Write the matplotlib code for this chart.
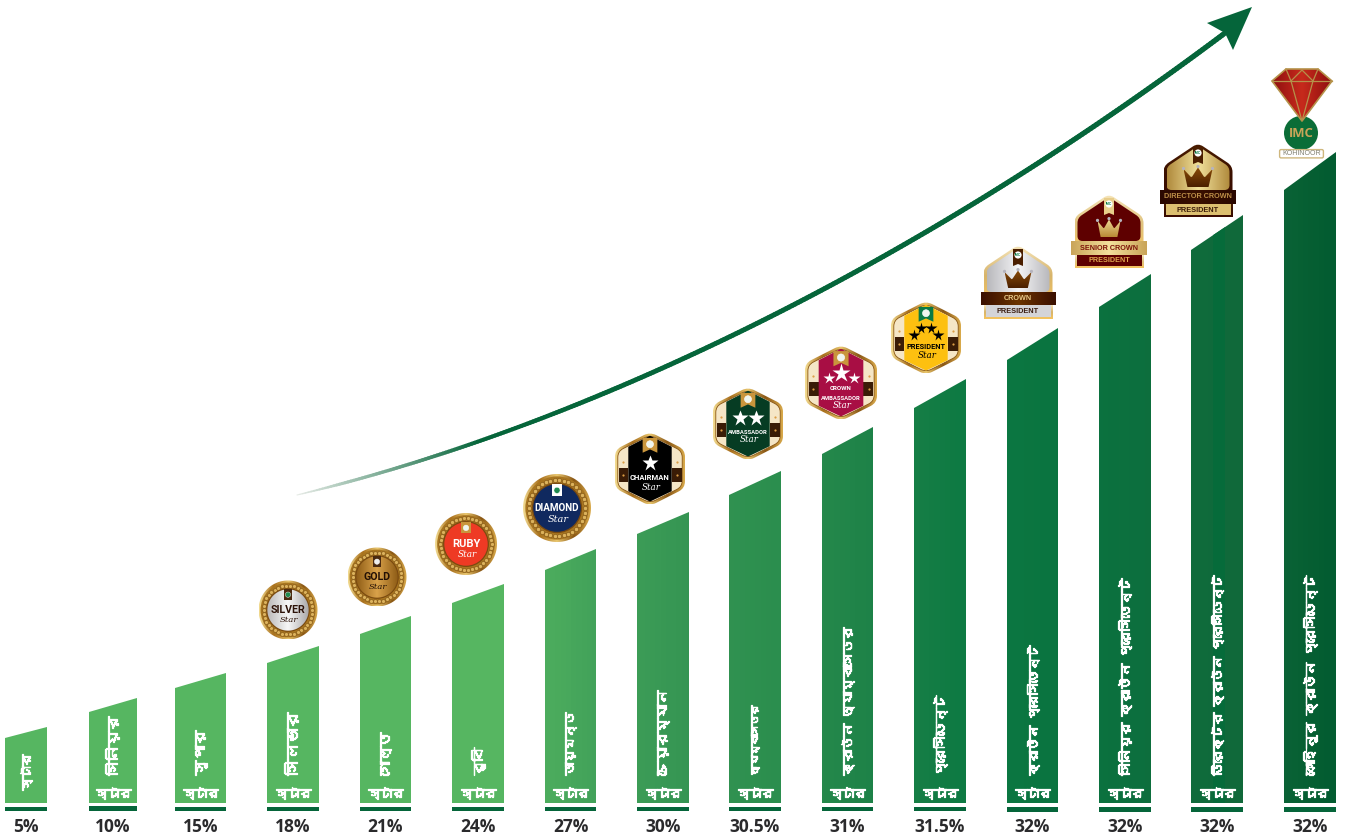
import numpy as np
import matplotlib
matplotlib.use("Agg")
import matplotlib.pyplot as plt
import matplotlib.patheffects as pe
from matplotlib import font_manager as fm
from matplotlib.collections import LineCollection
from matplotlib.colors import LinearSegmentedColormap, to_rgb
from matplotlib.patches import Circle, FancyBboxPatch, PathPatch, Polygon, Rectangle
from matplotlib.path import Path

# ---------- data ----------
star_word = "স্টার"
ranks = ["স্টার", "সিনিয়র", "সুপার", "সিলভার", "গোল্ড", "রুবি", "ডায়মন্ড", "চেয়ারম্যান",
         "অ্যাম্বাসেডর", "ক্রাউন অ্যাম্বাসেডর", "প্রেসিডেন্ট", "ক্রাউন প্রেসিডেন্ট",
         "সিনিয়র ক্রাউন প্রেসিডেন্ট", "ডিরেক্টর ক্রাউন প্রেসিডেন্ট", "কোহিনূর ক্রাউন প্রেসিডেন্ট"]
percent_labels = ["5%", "10%", "15%", "18%", "21%", "24%", "27%", "30%", "30.5%", "31%",
                  "31.5%", "32%", "32%", "32%", "32%"]
height_left = [65, 91, 115, 140, 169, 200, 233, 269, 308, 349, 395, 443, 496, 553, 613]
height_right = [76, 105, 130, 157, 187, 219, 254, 291, 332, 376, 424, 475, 529, 588, 651]

# ---------- layout ----------
W, H = 1353, 836
BASE = 803
bar_left = [5, 89, 175, 267, 360, 452, 545, 637, 729, 822, 914, 1007, 1099, 1191, 1284]
bar_right = [47, 137, 226, 319, 411, 504, 596, 689, 781, 873, 966, 1058, 1151, 1243, 1336]
label_len = [36, 59, 45, 63, 43, 28, 63, 85, 70, 148, 80, 130, 197, 200, 200]
label_bottom = 775
DARK = "#05653a"

bengali = None
for f in fm.fontManager.ttflist:
    try:
        if 0x09B8 in fm.get_font(f.fname).get_charmap():
            bengali = f.name
            break
    except Exception:
        pass
bn_family = [bengali, "Noto Sans", "DejaVu Sans"] if bengali else ["Noto Sans", "DejaVu Sans"]
NARROW = ["Roboto", "DejaVu Sans"]
SANS = ["Liberation Sans", "DejaVu Sans"]

fig = plt.figure(figsize=(W / 100, H / 100), dpi=100, facecolor="white")
ax = fig.add_axes([0, 0, 1, 1])
ax.set_axis_off()
ax.set_xlim(0, W)
ax.set_ylim(H, 0)
renderer = fig.canvas.get_renderer()


def fit(x, y, s, length, **kw):
    """Real text whose longest side is scaled to length pixels."""
    t = ax.text(x, y, s, fontsize=10, **kw)
    bb = t.get_window_extent(renderer)
    t.set_fontsize(10 * length / max(bb.width, bb.height))
    return t


def grad(path, stops, z, vertical=True, extent=None):
    cm = LinearSegmentedColormap.from_list("g", stops)
    bb = path.get_extents()
    x0, x1, y0, y1 = extent if extent else (bb.x0, bb.x1, bb.y0, bb.y1)
    arr = np.linspace(0, 1, 256)
    arr = arr[:, None] if vertical else arr[None, :]
    im = ax.imshow(arr, extent=[x0, x1, y1, y0], origin="upper", aspect="auto",
                   cmap=cm, zorder=z, interpolation="bilinear")
    p = PathPatch(path, transform=ax.transData, fc="none", ec="none", zorder=z)
    ax.add_patch(p)
    im.set_clip_path(p)
    return im


def circle_path(cx, cy, r):
    th = np.linspace(0, 2 * np.pi, 90)
    return Path(np.c_[cx + r * np.cos(th), cy + r * np.sin(th)])


def rounded(pts, rad):
    """Closed path through pts with the corners rounded off."""
    pts = [np.array(p, float) for p in pts]
    n = len(pts)
    v, c = [], []
    for i in range(n):
        p, q, r = pts[i - 1], pts[i], pts[(i + 1) % n]
        a = q + (p - q) / np.linalg.norm(p - q) * rad
        b = q + (r - q) / np.linalg.norm(r - q) * rad
        v += [a, q, b]
        c += [Path.MOVETO if i == 0 else Path.LINETO, Path.CURVE3, Path.CURVE3]
    v.append(v[0])
    c.append(Path.CLOSEPOLY)
    return Path(np.array(v), c)


def rect_path(x, y, w, h):
    return Path([(x, y), (x + w, y), (x + w, y + h), (x, y + h), (x, y)])


GOLD = ["#f3dc92", "#a86f1c", "#e9c66e", "#8a5714", "#d9aa4c"]

# ---------- bars ----------
verts, codes = [], []
for l, r, hl, hr in zip(bar_left, bar_right, height_left, height_right):
    verts += [(l, BASE), (l, BASE - hl), (r, BASE - hr), (r, BASE), (l, BASE)]
    codes += [Path.MOVETO, Path.LINETO, Path.LINETO, Path.LINETO, Path.CLOSEPOLY]
ramp_x = [0, 504, 596, 689, 781, 873, 966, 1058, 1151, 1243, 1336, 1353]
ramp_c = ["#56b661", "#56b661", "#42a25a", "#359553", "#2b8e4e", "#1e8248", "#0e7a43",
          "#0a7440", "#0d6f3e", "#11693a", "#035c31", "#035c31"]
grad(Path(verts, codes), [(x / W, c) for x, c in zip(ramp_x, ramp_c)], 2, vertical=False,
     extent=(0, W, 0, H))
# darker strip inside the Director bar
sl, sr = 1213, 1225
top_at = lambda x: BASE - np.interp(x, [bar_left[13], bar_right[13]], [height_left[13], height_right[13]])
ax.add_patch(Polygon([(sl, BASE), (sl, top_at(sl)), (sr, top_at(sr)), (sr, BASE)], fc="#066b3a",
                     ec="none", zorder=2.1))

bold = [pe.withStroke(linewidth=0.9, foreground="white")]
for i, (l, r) in enumerate(zip(bar_left, bar_right)):
    cx = (l + r) / 2
    top, bot = (806, 811) if i == 1 else ((807, 811) if i < 11 else (807, 812))
    ax.add_patch(Rectangle((l, top), r - l, bot - top, fc=DARK, ec="none", zorder=3))
    ax.text(cx, 827, percent_labels[i], ha="center", va="center", fontsize=12.5,
            fontweight="bold", family=["Open Sans", "DejaVu Sans"], color="#2a2a2c", zorder=5)
    if i == 0:
        fit(cx, 790, ranks[i], label_len[i], rotation=90, ha="center", va="bottom", fontweight="bold",
            family=bn_family, color="white", zorder=5, path_effects=bold)
    else:
        fit(cx, 793, star_word, 35, ha="center", va="center", fontweight="bold", family=bn_family,
            color="white", zorder=5, path_effects=bold)
        fit(cx, label_bottom, ranks[i], label_len[i], rotation=90, ha="center", va="bottom",
            fontweight="bold", family=bn_family, color="white", zorder=5, path_effects=bold)

# ---------- growth arrow ----------
P = np.array([[297, 495], [597, 423], [925, 258], [1225, 33]], float)
t = np.linspace(0, 1, 320)[:, None]
curve = (1 - t) ** 3 * P[0] + 3 * (1 - t) ** 2 * t * P[1] + 3 * (1 - t) * t ** 2 * P[2] + t ** 3 * P[3]
segs = np.stack([curve[:-1], curve[1:]], axis=1)
frac = np.clip((curve[:-1, 0] - 297) / (480 - 297), 0, 1)
g = np.array(to_rgb(DARK))
cols = [(1 - a) * np.array([0.9, 0.92, 0.9]) + a * g for a in frac]
lw = np.interp(curve[:-1, 0], [297, 340, 600, 1225], [0.8, 2.2, 3.4, 3.8])
ax.add_collection(LineCollection(segs, colors=cols, linewidths=lw, capstyle="round", zorder=4))
ax.add_patch(Polygon([(1252, 7), (1207, 23), (1225, 33), (1233, 50)], fc=DARK, ec="none", zorder=4))


# ---------- badges ----------
def round_badge(cx, cy, r, fill, word, word_color, word_w, ribbon, dot):
    grad(circle_path(cx, cy, r), GOLD, 6, vertical=False)
    ax.add_patch(Circle((cx, cy), r * 0.93, fc="#a8751f", ec="none", zorder=6.1))
    ang = np.linspace(0, 2 * np.pi, 38, endpoint=False)
    ax.scatter(cx + r * 0.83 * np.cos(ang), cy + r * 0.83 * np.sin(ang), s=r * 0.26,
               c="#dcb25c", edgecolors="#7d5214", linewidths=0.4, zorder=6.2)
    ax.add_patch(Circle((cx, cy), r * 0.74, fc="#7a4a10", ec="none", zorder=6.25))
    if isinstance(fill, str):
        ax.add_patch(Circle((cx, cy), r * 0.70, fc=fill, ec="none", zorder=6.3))
    else:
        grad(circle_path(cx, cy, r * 0.70), fill, 6.3, vertical=False)
    ax.add_patch(Rectangle((cx - r * 0.15, cy - r * 0.71), r * 0.30, r * 0.37, fc=ribbon, ec="none", zorder=6.4))
    ax.add_patch(Circle((cx, cy - r * 0.52), r * 0.09, fc=dot, ec="white", lw=0.3, zorder=6.5))
    fit(cx, cy, word, word_w, ha="center", va="center", fontweight="bold", family=NARROW,
        color=word_color, zorder=7)
    fit(cx + 1, cy + r * 0.33, "Star", r * 0.62, ha="center", va="center", style="italic",
        family=["DejaVu Serif"], color=word_color, zorder=7.1)


def hex_pts(cx, cy, w, h, k=1.0):
    return [(cx, cy - h * k), (cx + w * k, cy - h * k * 0.52), (cx + w * k, cy + h * k * 0.52),
            (cx, cy + h * k), (cx - w * k, cy + h * k * 0.52), (cx - w * k, cy - h * k * 0.52)]


def hex_badge(cx, cy, w, h, fill, words, word_w, word_ys, star_y, word_color, star_xy, star_color,
              star_ms, ribbon, dot):
    grad(rounded(hex_pts(cx, cy, w, h), 7), GOLD, 6, vertical=False)
    ax.add_patch(PathPatch(rounded(hex_pts(cx, cy, w, h, 0.92), 6), fc="#f5e6c6", ec="#8a5714", lw=0.6, zorder=6.1))
    for s in (-1, 1):
        x0 = cx + w * 0.62 if s > 0 else cx - w * 0.90
        ax.add_patch(Rectangle((x0, cy - h * 0.03), w * 0.28, h * 0.38, fc="#3a1c06", ec="none", zorder=6.15))
        ax.plot([cx + s * w * 0.78], [cy - h * 0.19], marker="o", ms=1.6, color="#dc9d45", mec="none", zorder=6.2)
        ax.plot([cx + s * w * 0.78], [cy + h * 0.16], marker="o", ms=1.6, color="#dc9d45", mec="none", zorder=6.2)
    panel = [(cx - w * 0.62, cy - h * 0.60), (cx, cy - h * 0.90), (cx + w * 0.62, cy - h * 0.60),
             (cx + w * 0.62, cy + h * 0.60), (cx, cy + h * 0.88), (cx - w * 0.62, cy + h * 0.60)]
    ax.add_patch(Polygon(panel, fc=fill, ec="none", zorder=6.3))
    ax.add_patch(Polygon([(cx - w * 0.21, cy - h * 0.84), (cx + w * 0.21, cy - h * 0.84), (cx + w * 0.21, cy - h * 0.44),
                          (cx, cy - h * 0.53), (cx - w * 0.21, cy - h * 0.44)], fc=ribbon, ec="none", zorder=6.4))
    ax.add_patch(Circle((cx, cy - h * 0.67), w * 0.10, fc=dot, ec="white", lw=0.4, zorder=6.5))
    for dx, dy, m in star_xy:
        ax.plot([cx + dx * w], [cy + dy * h], marker="*", ms=star_ms * m, mfc=star_color, mec="none", zorder=7)
    for wd, wpx, yy in zip(words, word_w, word_ys):
        fit(cx, cy + yy, wd, wpx, ha="center", va="center", fontweight="bold", family=NARROW,
            color=word_color, zorder=7)
    fit(cx + 1, cy + star_y, "Star", 19, ha="center", va="center", style="italic",
        family=["DejaVu Serif"], color=word_color, zorder=7.1)


def crown(cx, cy, w, h, stops, gem):
    pts = [(-0.5, -0.42), (-0.24, -0.02), (-0.2, -0.05), (0, -0.5), (0.2, -0.05), (0.24, -0.02), (0.5, -0.42),
           (0.36, 0.5), (-0.36, 0.5)]
    pts = np.array(pts) * (w, h) + (cx, cy)
    grad(Path(np.vstack([pts, pts[0]])), stops, 6.6)
    for dx, dy in [(-0.5, -0.45), (0, -0.55), (0.5, -0.45)]:
        ax.add_patch(Circle((cx + dx * w, cy + dy * h), 1.6, fc=gem, ec="none", zorder=6.7))


def shield(cx, ytop, ybot, w, bw, y1, y2, fill, rim, bandfill, band, low, lowfill, lowtext, crown_spec,
           ribbon):
    outer = [(cx, ytop), (cx + w, ytop + 23), (cx + w, y2), (cx - w, y2), (cx - w, ytop + 23)]
    grad(rounded(outer, 6), rim, 6)
    inner = [(cx, ytop + 3), (cx + w - 3, ytop + 24), (cx + w - 3, y1), (cx - w + 3, y1), (cx - w + 3, ytop + 24)]
    ipath = rounded(inner, 5)
    if isinstance(fill, str):
        ax.add_patch(PathPatch(ipath, fc=fill, ec="none", zorder=6.1))
    else:
        grad(ipath, fill, 6.1, vertical=False)
    ax.add_patch(Polygon([(cx - 5, ytop + 4), (cx + 5, ytop + 4), (cx + 5, ytop + 21), (cx, ytop + 19), (cx - 5, ytop + 21)],
                         fc=ribbon, ec="none", zorder=6.3))
    ax.add_patch(Circle((cx, ytop + 10), 3.6, fc="white", ec="none", zorder=6.4))
    ax.text(cx, ytop + 10, "IMC", ha="center", va="center", fontsize=2.4, fontweight="bold", family=SANS,
            color="#0b7a45", zorder=6.5)
    crown(cx, ytop + 34.5, crown_spec[0], crown_spec[1], crown_spec[2], crown_spec[3])
    grad(rect_path(cx - bw, y1, 2 * bw, y2 - y1), bandfill, 6.8, vertical=False)
    fit(cx, (y1 + y2) / 2, band[0], band[1], ha="center", va="center", fontweight="bold", family=SANS,
        color=band[2], zorder=7)
    grad(rect_path(cx - w, y2, 2 * w, ybot - y2), rim, 6.8)
    ax.add_patch(Rectangle((cx - w + 2, y2), 2 * w - 4, ybot - y2 - 2, fc=lowfill, ec="none", zorder=6.85))
    fit(cx, (y2 + ybot) / 2 - 0.5, low[0], low[1], ha="center", va="center", fontweight="bold", family=SANS,
        color=lowtext, zorder=7)


round_badge(288, 610, 29.5, ["#b9b7b8", "#f7f7f7", "#a9a7a8"], "SILVER", "#2d1208", 35, "#4a2a10", "#1f8a50")
round_badge(377, 577, 29.5, ["#8e5c16", "#d9a24a", "#8e5c16"], "GOLD", "#231005", 27, "#4a2a10", "#eeeeee")
round_badge(466, 544, 31, "#ee3a24", "RUBY", "white", 28, "#c9953c", "#eef5ee")
round_badge(557, 508, 34, "#10295f", "DIAMOND", "white", 45, "#ffffff", "#1f8a50")

hex_badge(650, 469, 35, 37, "#000000", ["CHAIRMAN"], [40], [9], 18, "white", [(0, -0.15, 1.0)], "white", 12,
          "#c9953c", "#eef5ee")
hex_badge(748, 424, 35, 37, "#063c23", ["AMBASSADOR"], [40], [8], 15, "white",
          [(-0.22, -0.16, 1.0), (0.22, -0.16, 1.0)], "white", 12, "#c9953c", "#eef5ee")
hex_badge(841, 383, 36, 38, "#a80e44", ["CROWN", "AMBASSADOR"], [22, 40], [6, 15], 23, "white",
          [(0, -0.26, 1.25), (-0.34, -0.13, 0.8), (0.36, -0.13, 0.8)], "white", 11, "#c9953c", "#eef5ee")
hex_badge(926, 338, 35, 37, "#fdc010", ["PRESIDENT"], [39], [9], 17, "black",
          [(-0.14, -0.27, 1), (0.14, -0.27, 1), (-0.34, -0.08, 1), (0.34, -0.08, 1)], "black", 8.5,
          "#0a7a45", "#eef5ee")

shield(1018, 245, 319, 34.5, 37.5, 292, 305, ["#b8b8bc", "#f4f4f6", "#b8b8bc"],
       ["#f5e4b8", "#d7b46a", "#f6c45e"], ["#3a0f00", "#6b3300", "#3a0f00"], ("CROWN", 28, "#e8c98a"),
       ("PRESIDENT", 42), "#d4d4d8", "#3a1c10", (27, 18, ["#8a4c08", "#4a1f00"], "#b5b3bd"), "#4a1e00")
shield(1109, 194, 268, 34.5, 38, 241, 255, "#5e0000",
       ["#f5e4b8", "#e0c27c", "#f6c45e"], ["#c9a458", "#f3e09c", "#c9a458"], ("SENIOR CROWN", 58, "#7c1208"),
       ("PRESIDENT", 41), "#5e0000", "#e0a850", (23, 18, ["#f0dc98", "#b98a34"], "#b5b3bd"), "#e8cd8a")
shield(1198, 143, 217, 34.5, 38, 190, 204, ["#b08a3c", "#f0e09a", "#b08a3c"],
       ["#4a1c00", "#3a1000", "#3a0a00"], ["#2a0800", "#3a1000", "#2a0800"], ("DIRECTOR CROWN", 68, "#bd8f48"),
       ("PRESIDENT", 42), "#dcbf70", "#3a1a08", (29, 20, ["#8a4c08", "#4a1f00"], "#b5b3bd"), "#4a1e00")

# Kohinoor diamond
dia = np.array([(1286, 69), (1318, 69), (1332, 81), (1302, 121), (1272, 81), (1286, 69)], float)
grad(Path(dia), ["#8e0f0f", "#c72a1c", "#8e0f0f"], 6, vertical=False)
ax.add_patch(Polygon(dia, fc="none", ec="#b5924a", lw=1.2, zorder=6.2))
for seg in [[(1272, 81), (1332, 81)], [(1286, 69), (1291, 81), (1302, 121), (1313, 81), (1318, 69)],
            [(1291, 81), (1302, 70), (1313, 81)]]:
    s = np.array(seg)
    ax.plot(s[:, 0], s[:, 1], color="#b5924a", lw=0.9, zorder=6.3)
ax.add_patch(Circle((1301, 133), 17, fc="#0b6d37", ec="none", zorder=5.9))
fit(1301, 133.5, "IMC", 25, ha="center", va="center", fontweight="bold", family=["Open Sans", "DejaVu Sans"],
    color="#c9a558", zorder=6.4)
ax.add_patch(FancyBboxPatch((1280, 150), 43, 7.5, boxstyle="round,pad=0.4,rounding_size=1.5",
                            fc="white", ec="#cfb77e", lw=1, zorder=6.4))
fit(1301.5, 153.8, "KOHINOOR", 38, ha="center", va="center", family=SANS, color="#7f7f70", zorder=6.5)

ax.set_xlim(0, W)
ax.set_ylim(H, 0)
fig.savefig("out.png", dpi=100, facecolor="white")
